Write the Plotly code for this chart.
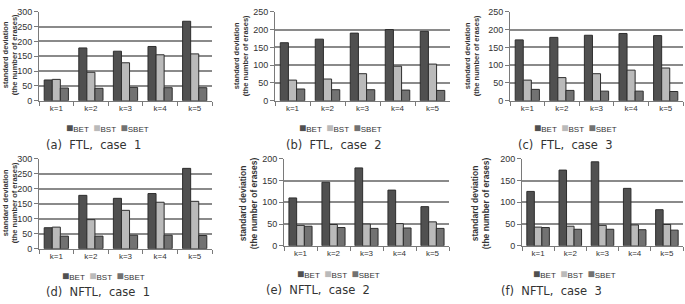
import plotly.graph_objects as go

categories = ["k=1", "k=2", "k=3", "k=4", "k=5"]
series_names = ["BET", "BST", "SBET"]
series_colors = ["#505050", "#bababa", "#727272"]

ftl_case1_bet = [70, 178, 167, 183, 268]
ftl_case1_bst = [72, 96, 128, 155, 158]
ftl_case1_sbet = [43, 42, 45, 44, 44]

ftl_case2_bet = [163, 173, 190, 200, 195]
ftl_case2_bst = [58, 61, 76, 97, 103]
ftl_case2_sbet = [33, 31, 31, 30, 29]

ftl_case3_bet = [171, 178, 184, 189, 183]
ftl_case3_bst = [58, 65, 76, 86, 92]
ftl_case3_sbet = [32, 29, 27, 27, 26]

nftl_case1_bet = [70, 178, 168, 184, 268]
nftl_case1_bst = [72, 97, 128, 155, 158]
nftl_case1_sbet = [42, 42, 45, 45, 44]

nftl_case2_bet = [110, 146, 179, 128, 90]
nftl_case2_bst = [47, 49, 50, 51, 55]
nftl_case2_sbet = [45, 42, 40, 41, 40]

nftl_case3_bet = [125, 174, 193, 132, 83]
nftl_case3_bst = [43, 45, 47, 48, 49]
nftl_case3_sbet = [42, 38, 38, 37, 36]

captions = ["(a)  FTL,  case  1", "(b)  FTL,  case  2", "(c)  FTL,  case  3",
            "(d)  NFTL,  case  1", "(e)  NFTL,  case  2", "(f)  NFTL,  case  3"]
y_max = [300, 250, 250, 300, 200, 200]
y_title = "standard deviation<br>(the number of erases)"

panels = [
    [ftl_case1_bet, ftl_case1_bst, ftl_case1_sbet],
    [ftl_case2_bet, ftl_case2_bst, ftl_case2_sbet],
    [ftl_case3_bet, ftl_case3_bst, ftl_case3_sbet],
    [nftl_case1_bet, nftl_case1_bst, nftl_case1_sbet],
    [nftl_case2_bet, nftl_case2_bst, nftl_case2_sbet],
    [nftl_case3_bet, nftl_case3_bst, nftl_case3_sbet],
]

W, H = 685, 304
# plot areas in pixels: (left, right, top, bottom)
boxes = [
    (39, 212, 7, 99),
    (275, 450, 7, 99),
    (510, 683, 7, 99),
    (39, 212, 159, 252),
    (284, 449, 159, 249),
    (522, 683, 159, 249),
]
ytitle_pos = [(10, 52), (241, 53), (472, 53), (10, 205), (248, 205), (480, 205)]
ytitle_size = [7.5, 7.5, 7.5, 7.5, 8.5, 8.5]
legend_pos = [(107, 127), (340, 127), (575, 127), (103, 280), (338, 278), (574, 278)]
caption_pos = [(93, 145), (333, 145), (565, 145), (98, 297), (318, 295), (551, 296)]

fig = go.Figure()
layout = dict(
    width=W, height=H, margin=dict(l=0, r=0, t=0, b=0),
    paper_bgcolor="white", plot_bgcolor="white",
    barmode="group", bargap=0.3, bargroupgap=0.0,
    showlegend=False,
    font=dict(family="Liberation Sans, Arial, sans-serif", color="#333333"),
)
annotations = []

for i, (vals, box) in enumerate(zip(panels, boxes)):
    n = "" if i == 0 else str(i + 1)
    xa, ya = "x" + n, "y" + n
    for s, name in enumerate(series_names):
        fig.add_trace(go.Bar(
            x=categories, y=vals[s], name=name, xaxis=xa, yaxis=ya,
            marker=dict(color=series_colors[s], line=dict(color="#2e2e2e", width=1)),
        ))
    l, r, t, b = box
    layout["xaxis" + n] = dict(
        domain=[l / W, r / W], anchor=ya, type="category",
        showline=True, linecolor="#7a7a7a", linewidth=1,
        ticks="outside", tickson="boundaries", ticklen=4, tickcolor="#7a7a7a",
        tickfont=dict(size=8, color="#333333"), showgrid=False,
    )
    layout["yaxis" + n] = dict(
        domain=[1 - b / H, 1 - t / H], anchor=xa,
        range=[0, y_max[i]], dtick=50,
        showline=True, linecolor="#7a7a7a", linewidth=1,
        ticks="outside", ticklen=4, tickcolor="#7a7a7a",
        tickfont=dict(size=9, color="#333333"),
        showgrid=True, gridcolor="#8a8a8a", gridwidth=1.5, zeroline=False,
    )
    tx, ty = ytitle_pos[i]
    annotations.append(dict(
        text="<b>" + y_title + "</b>", x=tx / W, y=1 - ty / H, xref="paper", yref="paper",
        xanchor="center", yanchor="middle", textangle=-90, showarrow=False,
        font=dict(size=ytitle_size[i], color="#333333"),
    ))
    lx, ly = legend_pos[i]
    leg = "&nbsp;&nbsp;".join(
        '<span style="color:%s;font-size:12px">■</span>%s' % (c, nm)
        for c, nm in zip(series_colors, series_names)
    )
    annotations.append(dict(
        text=leg, x=lx / W, y=1 - ly / H, xref="paper", yref="paper",
        xanchor="center", yanchor="middle", showarrow=False,
        font=dict(size=8, color="#333333"),
    ))
    cx, cy = caption_pos[i]
    annotations.append(dict(
        text=captions[i], x=cx / W, y=1 - cy / H, xref="paper", yref="paper",
        xanchor="center", yanchor="middle", showarrow=False,
        font=dict(size=11.5, color="#333333", family="DejaVu Sans, sans-serif"),
    ))

layout["annotations"] = annotations
fig.update_layout(**layout)
fig.write_html("out.html")
